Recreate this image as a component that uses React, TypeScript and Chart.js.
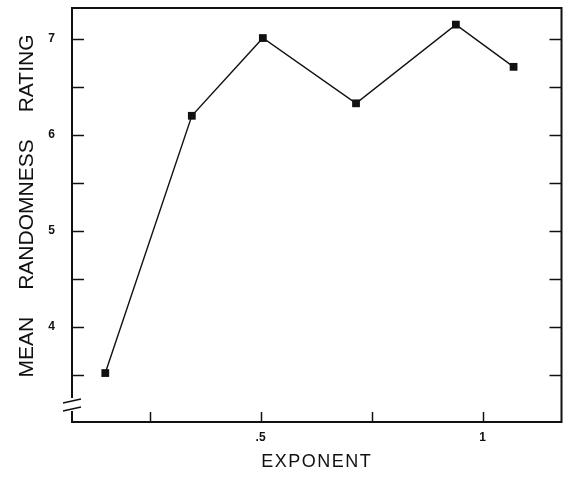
import React, { useEffect, useRef } from "react";
import { Chart, registerables } from "chart.js";

Chart.register(...registerables);

// Exponent of each stimulus condition and its mean randomness rating
const exponents = [0.15, 0.345, 0.505, 0.715, 0.94, 1.07];
const ratings = [3.52, 6.2, 7.01, 6.33, 7.15, 6.71];

// Axis ticks and their printed labels
const xTickValues = [0.25, 0.5, 0.75, 1.0];
const xTickLabels: Record<string, string> = { "0.5": ".5", "1": "1" };
const yTickValues = [3.5, 4, 4.5, 5, 5.5, 6, 6.5, 7];
const yTickLabels: Record<string, string> = { "4": "4", "5": "5", "6": "6", "7": "7" };

const xTitle = "EXPONENT";
const yTitleWords = ["MEAN", "RANDOMNESS", "RATING"];

const FONT = '"Liberation Sans", Arial, Helvetica, sans-serif';
const INK = "#111";

// Draws the framed box, inward tick marks, the axis break and the axis titles
const framePlugin = {
  id: "frame",
  beforeDatasetsDraw(chart: any) {
    const { ctx, chartArea } = chart;
    const { left, right, top, bottom } = chartArea;
    const xs = chart.scales.x;
    const ys = chart.scales.y;
    const breakY = bottom - 18;

    ctx.save();
    ctx.strokeStyle = INK;
    ctx.lineCap = "butt";

    // frame
    ctx.lineWidth = 2;
    ctx.beginPath();
    ctx.moveTo(left, breakY - 6);
    ctx.lineTo(left, top);
    ctx.lineTo(right, top);
    ctx.lineTo(right, bottom);
    ctx.lineTo(left, bottom);
    ctx.lineTo(left, breakY + 7);
    ctx.stroke();

    // break marks on the value axis
    ctx.lineWidth = 1.6;
    ctx.beginPath();
    ctx.moveTo(left - 9, breakY - 1);
    ctx.lineTo(left + 9, breakY - 5);
    ctx.moveTo(left - 9, breakY + 7);
    ctx.lineTo(left + 9, breakY + 3);
    ctx.stroke();

    // y ticks, pointing inward from both sides
    ctx.lineWidth = 1.5;
    ctx.beginPath();
    for (const v of yTickValues) {
      const py = Math.round(ys.getPixelForValue(v)) + 0.5;
      ctx.moveTo(left, py);
      ctx.lineTo(left + 12, py);
      ctx.moveTo(right, py);
      ctx.lineTo(right - 12, py);
    }
    // x ticks, pointing up from the bottom
    for (const v of xTickValues) {
      const px = Math.round(xs.getPixelForValue(v)) + 0.5;
      ctx.moveTo(px, bottom);
      ctx.lineTo(px, bottom - 10);
    }
    ctx.stroke();

    // axis titles
    ctx.fillStyle = INK;
    ctx.textBaseline = "middle";

    ctx.font = `18px ${FONT}`;
    (ctx as any).letterSpacing = "1.5px";
    ctx.textAlign = "center";
    ctx.fillText(xTitle, (left + right) / 2, 462);
    (ctx as any).letterSpacing = "0px";

    ctx.font = `21px ${FONT}`;
    const gap = 27;
    const widths = yTitleWords.map((w) => ctx.measureText(w).width);
    const total = widths.reduce((a, b) => a + b, 0) + gap * (yTitleWords.length - 1);
    const centerY = 206;
    ctx.translate(27, centerY);
    ctx.rotate(-Math.PI / 2);
    ctx.textAlign = "left";
    let pos = -total / 2;
    yTitleWords.forEach((w, i) => {
      ctx.fillText(w, pos, 0);
      pos += widths[i] + gap;
    });
    ctx.restore();
  },
};

export default function App() {
  const canvasRef = useRef<HTMLCanvasElement | null>(null);

  useEffect(() => {
    const canvas = canvasRef.current;
    if (!canvas) return;
    const chart = new Chart(canvas, {
      type: "line",
      data: {
        datasets: [
          {
            data: exponents.map((x, i) => ({ x, y: ratings[i] })),
            borderColor: INK,
            borderWidth: 1.4,
            backgroundColor: INK,
            pointStyle: "rect",
            pointRadius: 5.5,
            pointBorderWidth: 0,
            pointBackgroundColor: INK,
            tension: 0,
            clip: false,
          },
        ],
      },
      options: {
        animation: false,
        responsive: false,
        devicePixelRatio: 1,
        events: [],
        layout: { padding: { top: 8, right: 5, left: 0, bottom: 0 } },
        plugins: { legend: { display: false }, tooltip: { enabled: false } },
        scales: {
          x: {
            type: "linear",
            min: 0.075,
            max: 1.178,
            grid: { display: false, drawTicks: false },
            border: { display: false },
            afterBuildTicks: (scale: any) => {
              scale.ticks = xTickValues.map((value) => ({ value }));
            },
            afterFit: (scale: any) => {
              scale.height = 56;
              scale.paddingLeft = 0;
              scale.paddingRight = 0;
            },
            ticks: {
              autoSkip: false,
              maxRotation: 0,
              padding: 8,
              color: INK,
              font: { family: FONT, size: 12, weight: "bold" },
              callback: (v: any) => xTickLabels[String(v)] ?? "",
            },
          },
          y: {
            type: "linear",
            min: 3.01,
            max: 7.323,
            grid: { display: false, drawTicks: false },
            border: { display: false },
            afterBuildTicks: (scale: any) => {
              scale.ticks = yTickValues.map((value) => ({ value }));
            },
            afterFit: (scale: any) => {
              scale.width = 72;
              scale.paddingTop = 0;
              scale.paddingBottom = 0;
            },
            ticks: {
              autoSkip: false,
              padding: 17,
              color: INK,
              font: { family: FONT, size: 12, weight: "bold" },
              callback: (v: any) => yTickLabels[String(v)] ?? "",
            },
          },
        },
      },
      plugins: [framePlugin],
    });
    return () => chart.destroy();
  }, []);

  return (
    <div style={{ position: "absolute", left: 0, top: 0, width: 567, height: 478, background: "#fff" }}>
      <canvas ref={canvasRef} width={567} height={478} style={{ display: "block" }} />
    </div>
  );
}
